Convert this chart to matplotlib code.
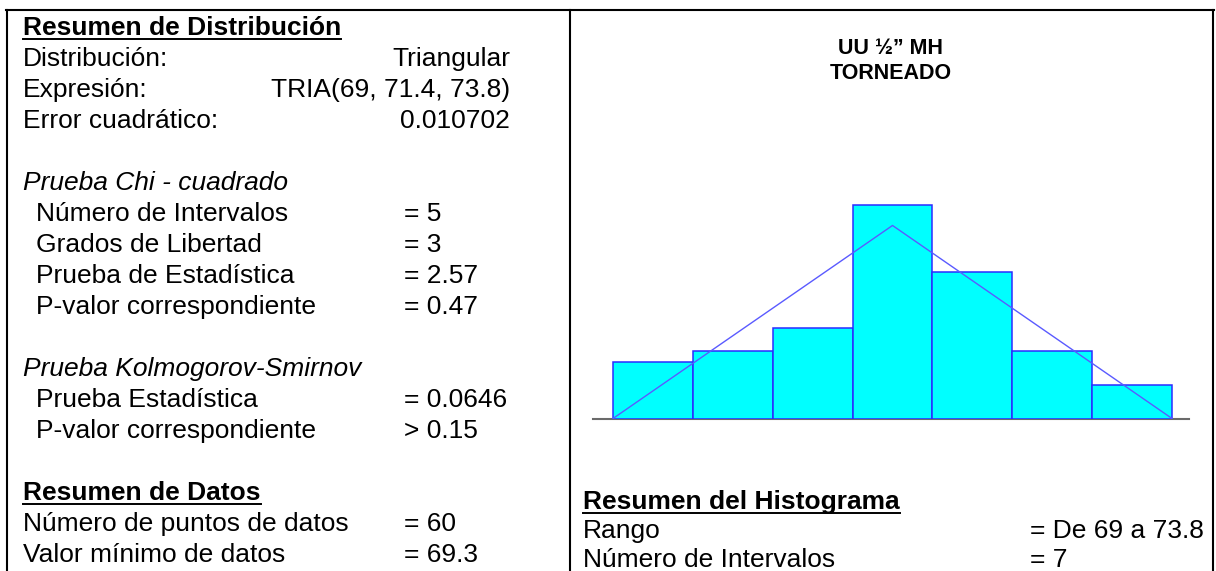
import matplotlib
matplotlib.use("Agg")
import matplotlib.pyplot as plt
from matplotlib.lines import Line2D
import numpy as np

W, H = 1216, 571
FS = 19

plt.rcParams['font.family'] = ['Liberation Sans', 'DejaVu Sans']

# fitted triangular distribution and histogram
tria_min, tria_mode, tria_max = 69, 71.4, 73.8
n_points = 60
n_bins = 7
counts = [5, 6, 8, 19, 13, 6, 3]

title_lines = ["UU ½\u201d MH", "TORNEADO"]
dist_labels = ["Distribución:", "Expresión:", "Error cuadrático:"]
dist_values = ["Triangular", "TRIA(69, 71.4, 73.8)", "0.010702"]
chi_labels = ["Número de Intervalos", "Grados de Libertad",
              "Prueba de Estadística", "P-valor correspondiente"]
chi_values = ["= 5", "= 3", "= 2.57", "= 0.47"]
ks_labels = ["Prueba Estadística", "P-valor correspondiente"]
ks_values = ["= 0.0646", "> 0.15"]
data_labels = ["Número de puntos de datos", "Valor mínimo de datos"]
data_values = ["= 60", "= 69.3"]
hist_labels = ["Rango", "Número de Intervalos"]
hist_values = ["= De 69 a 73.8", "= 7"]

fig = plt.figure(figsize=(W / 100, H / 100), dpi=100)


def fx(x):
    return x / W


def fy(y):
    return 1 - y / H


def put(x, y, s, **kw):
    kw.setdefault('fontsize', FS)
    return fig.text(fx(x), fy(y), s, va='baseline', **kw)


def hline(x0, x1, y, lw=1.5):
    fig.add_artist(Line2D([fx(x0), fx(x1)], [fy(y), fy(y)],
                          transform=fig.transFigure, color='black', lw=lw))


def vline(x, y0, y1, lw=1.5):
    fig.add_artist(Line2D([fx(x), fx(x)], [fy(y0), fy(y1)],
                          transform=fig.transFigure, color='black', lw=lw))


renderer = fig.canvas.get_renderer()


def heading(x, y, s):
    t = put(x, y, s, fontweight='bold')
    bb = t.get_window_extent(renderer)
    hline(bb.x0, bb.x1, y + 4, lw=1.4)


# frame
hline(6, 1214, 10)
vline(7, 10, H)
vline(570, 10, H)
vline(1213, 10, H)

# left column
lx, ix, vx, rx = 23, 36, 404, 510
step = 31
y0 = 35
heading(lx, y0, "Resumen de Distribución")
for i, (lab, val) in enumerate(zip(dist_labels, dist_values)):
    y = y0 + (i + 1) * step
    put(lx, y, lab)
    put(rx, y, val, ha='right')

y = y0 + 5 * step
put(lx, y, "Prueba Chi - cuadrado", style='italic')
for i, (lab, val) in enumerate(zip(chi_labels, chi_values)):
    put(ix, y + (i + 1) * step, lab)
    put(vx, y + (i + 1) * step, val)

y = y0 + 11 * step
put(lx, y, "Prueba Kolmogorov-Smirnov", style='italic')
for i, (lab, val) in enumerate(zip(ks_labels, ks_values)):
    put(ix, y + (i + 1) * step, lab)
    put(vx, y + (i + 1) * step, val)

y = y0 + 15 * step
heading(lx, y, "Resumen de Datos")
for i, (lab, val) in enumerate(zip(data_labels, data_values)):
    put(lx, y + (i + 1) * step, lab)
    put(vx, y + (i + 1) * step, val)

# right panel title
for i, s in enumerate(title_lines):
    put(891, 54 + i * 25, s, ha='center', fontweight='bold', fontsize=15.5)

# right panel summary
hy = 509
heading(583, hy, "Resumen del Histograma")
for i, (lab, val) in enumerate(zip(hist_labels, hist_values)):
    put(583, hy + (i + 1) * 29, lab)
    put(1030, hy + (i + 1) * 29, val)

# histogram with fitted triangular density
base_px, top_px = 418.5, 190
px_per_unit = (1172 - 613) / (tria_max - tria_min)
px_per_count = 11.26
ax = fig.add_axes([fx(593), fy(base_px), fx(1189) - fx(593), (base_px - top_px) / H])
ax.set_xlim(tria_min - 20 / px_per_unit, tria_max + 17 / px_per_unit)
ax.set_ylim(0, (base_px - top_px) / px_per_count)
ax.axis('off')

edges = np.linspace(tria_min, tria_max, n_bins + 1)
ax.bar(edges[:-1], counts, width=np.diff(edges), align='edge',
       color='#00ffff', edgecolor='#2b2bff', linewidth=1.1, zorder=2)
ax.axhline(0, color='#6a6a6a', lw=1.5, zorder=1, clip_on=False)

peak = n_points * (edges[1] - edges[0]) * 2 / (tria_max - tria_min)
ax.plot([tria_min, tria_mode, tria_max], [0, peak, 0],
        color='#5a5aff', lw=1.0, zorder=3)

fig.savefig("out.png", dpi=100)
